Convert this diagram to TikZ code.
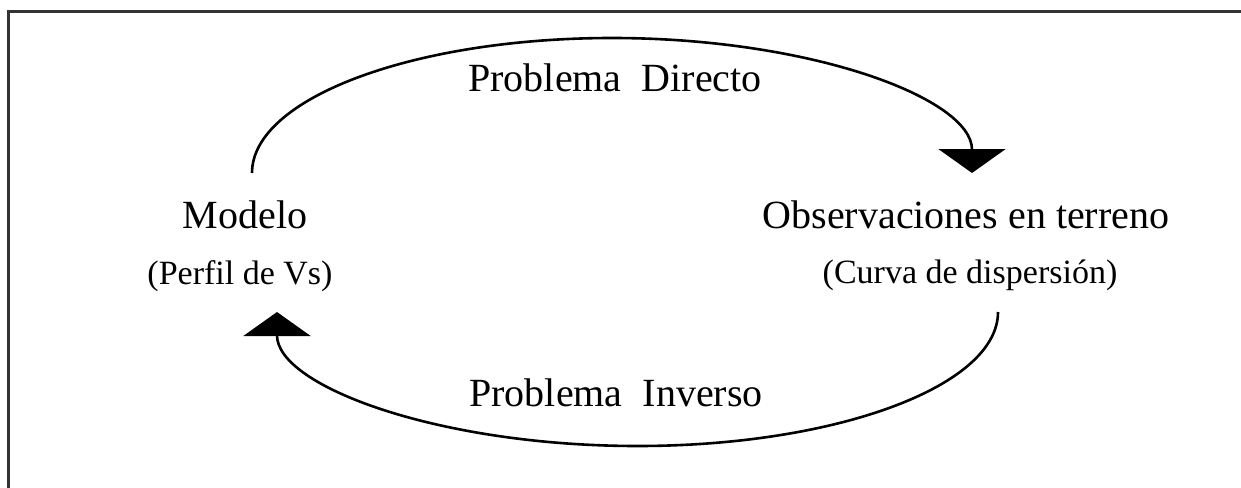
\documentclass[tikz,border=0pt]{standalone}
\usepackage{fontspec}
\setmainfont{Liberation Serif}
\usepackage{tikz}
\usetikzlibrary{arrows.meta}

\tikzset{
  titulo/.style={anchor=base,inner sep=0pt,font=\fontsize{40}{48}\selectfont},
  subtitulo/.style={anchor=base,inner sep=0pt,font=\fontsize{34}{41}\selectfont},
  flecha/.style={line width=2.6pt,black,-{Triangle[width=67pt,length=24pt]}},
  marco/.style={line width=3pt,black!80,line cap=rect}
}

\begin{document}
\begin{tikzpicture}[x=1pt,y=-1pt]
\useasboundingbox (0,0) rectangle (1241,487);
\draw[marco] (1241,11.5) -- (8.5,11.5) -- (8.5,487);
% textos
\node[titulo] (modelo) at (245,228) {Modelo};
\node[subtitulo] (perfil) at (240,284) {(Perfil de Vs)};
\node[titulo] (obs) at (966,228) {Observaciones en terreno};
\node[subtitulo] (curva) at (970,283) {(Curva de dispersión)};
\node[titulo] (directo) at (615,92) {Problema\ \ Directo};
\node[titulo] (inverso) at (616,406) {Problema\ \ Inverso};
% flechas
\coordinate (ini directo) at (252,173);
\coordinate (ini inverso) at (998,312);
\draw[flecha] (ini directo) arc[start angle=180,end angle=360,x radius=360,y radius=135];
\draw[flecha] (ini inverso) arc[start angle=0,end angle=180,x radius=360.5,y radius=134];
\end{tikzpicture}
\end{document}
